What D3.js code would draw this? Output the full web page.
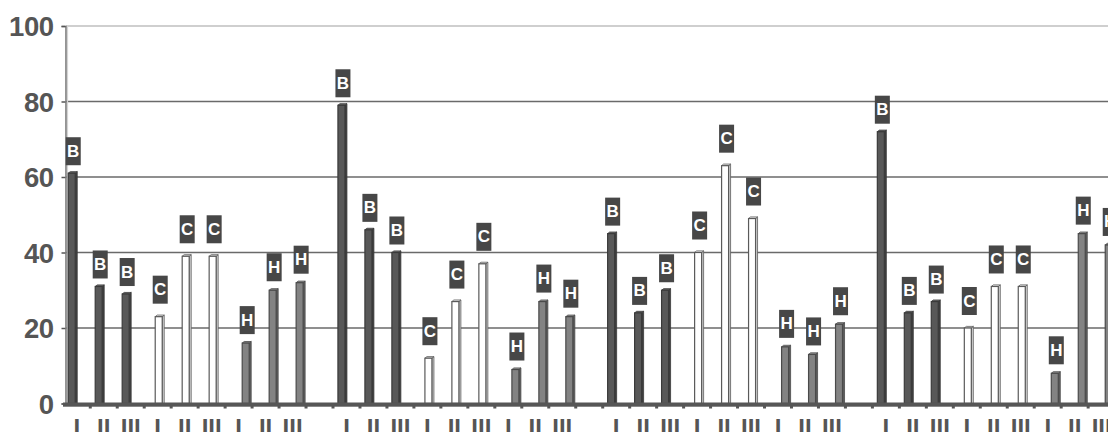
<!DOCTYPE html>
<html>
<head>
<meta charset="utf-8">
<script src="https://cdn.jsdelivr.net/npm/d3@7/dist/d3.min.js"></script>
<style>
  html, body { margin: 0; padding: 0; background: #fff; overflow: hidden; }
  svg { display: block; }
</style>
</head>
<body>
<svg id="chart" width="1108" height="432"></svg>
<script>
// ---- data ----
const categories = ["I","II","III","I","II","III","I","II","III","",
                    "I","II","III","I","II","III","I","II","III","",
                    "I","II","III","I","II","III","I","II","III","",
                    "I","II","III","I","II","III","I","II","III"];
const seriesKeys = ["B","C","H"];
const barSeries = ["B","B","B","C","C","C","H","H","H",null,
                   "B","B","B","C","C","C","H","H","H",null,
                   "B","B","B","C","C","C","H","H","H",null,
                   "B","B","B","C","C","C","H","H","H"];
const values = [61,31,29,23,39,39,16,30,32,null,
                79,46,40,12,27,37,9,27,23,null,
                45,24,30,40,63,49,15,13,21,null,
                72,24,27,20,31,31,8,45,42];
const yTicks = [0,20,40,60,80,100];

// ---- styles ----
const W = 1108, H = 432;
const fills = { B: "#585858", C: "#ffffff", H: "#838383" };
const sides = { B: "#3e3e3e", C: "#d8d8d8", H: "#5e5e5e" };
const tops  = { B: "#6e6e6e", C: "#f0f0f0", H: "#9a9a9a" };
const strokes = { B: "#3a3a3a", C: "#5a5a5a", H: "#4a4a4a" };
const labelGap = { B: 8, C: 13, H: 9 };

const svg = d3.select("#chart");

const x = d3.scaleBand()
  .domain(d3.range(categories.length))
  .range([63.3, 63.3 + 26.97 * categories.length])
  .paddingInner(0).paddingOuter(0);
const bw = x.bandwidth();
const xs = d3.scalePoint().domain(seriesKeys).range([bw * 0.35, bw * 0.8]);
const y = d3.scaleLinear().domain([0, 100]).range([403.5, 26]);

// gridlines
svg.append("g").selectAll("line")
  .data(yTicks.filter(t => t > 0))
  .join("line")
  .attr("x1", 66).attr("x2", W)
  .attr("y1", d => y(d)).attr("y2", d => y(d))
  .attr("stroke", d => d === 100 ? "#cfcfcf" : "#6a6a6a")
  .attr("stroke-width", d => d === 100 ? 2 : 1.5);

// y axis
const yAxis = svg.append("g")
  .attr("transform", "translate(65.5,0)")
  .call(d3.axisLeft(y).tickValues(yTicks).tickSize(4).tickPadding(8).tickFormat(d3.format("d")));
yAxis.select(".domain").attr("stroke", "#7a7a7a").attr("stroke-width", 1.6);
yAxis.selectAll(".tick line").attr("stroke", "#555").attr("stroke-width", 1.5);
yAxis.selectAll(".tick text")
  .attr("fill", "#555")
  .attr("dy", "0.36em")
  .style("font-family", "'Liberation Sans', Arial, sans-serif")
  .style("font-weight", "bold")
  .style("font-size", "27.5px")
  .style("letter-spacing", "-0.5px");
svg.append("line").attr("x1", 67.5).attr("x2", 67.5).attr("y1", y(100)).attr("y2", y(0))
  .attr("stroke", "#d4d4d4").attr("stroke-width", 1.2);

// bars
const barData = values.map((v, i) => ({ i, v, s: barSeries[i] })).filter(d => d.v != null);
const gBars = svg.append("g");
const fw = 7, sw = 2, dep = 1.6;
barData.forEach(d => {
  const cx = x(d.i) + xs(d.s);
  const x0 = cx - 4.5, x1 = x0 + fw, yv = y(d.v), y0 = y(0);
  const g = gBars.append("g");
  g.append("polygon")
    .attr("points", [[x1, yv], [x1 + sw, yv - dep], [x1 + sw, y0], [x1, y0]].join(" "))
    .attr("fill", sides[d.s]).attr("stroke", strokes[d.s]).attr("stroke-width", 0.8);
  g.append("polygon")
    .attr("points", [[x0, yv], [x0 + sw, yv - dep], [x1 + sw, yv - dep], [x1, yv]].join(" "))
    .attr("fill", tops[d.s]).attr("stroke", strokes[d.s]).attr("stroke-width", 0.8);
  g.append("rect")
    .attr("x", x0).attr("y", yv).attr("width", fw).attr("height", y0 - yv)
    .attr("fill", fills[d.s]).attr("stroke", strokes[d.s]).attr("stroke-width", 1.2);
});

// floor / x axis line
svg.append("rect").attr("x", 63).attr("y", 402.5).attr("width", W - 63).attr("height", 4.2)
  .attr("fill", "#565656");
svg.append("g").selectAll("rect")
  .data(d3.range(categories.length))
  .join("rect")
  .attr("x", i => x(i) + bw - 1.5).attr("y", 406).attr("width", 3).attr("height", 2.5)
  .attr("fill", "#565656");

// x axis labels
const xAxis = svg.append("g")
  .attr("transform", "translate(0,403.5)")
  .call(d3.axisBottom(x).tickSize(0).tickPadding(15).tickFormat(i => categories[i]));
xAxis.select(".domain").remove();
xAxis.selectAll(".tick text")
  .attr("fill", "#555")
  .style("font-family", "'Liberation Sans', Arial, sans-serif")
  .style("font-weight", "bold")
  .style("font-size", "24px");

// data labels
const gLab = svg.append("g");
barData.forEach(d => {
  const cx = x(d.i) + xs(d.s) + 0.5;
  const bottom = y(d.v) - labelGap[d.s];
  gLab.append("rect")
    .attr("x", cx - 7.5).attr("y", bottom - 28).attr("width", 15).attr("height", 28)
    .attr("fill", "#474747");
  gLab.append("text")
    .attr("x", cx).attr("y", bottom - 14)
    .attr("text-anchor", "middle").attr("dominant-baseline", "central")
    .attr("fill", "#fff")
    .style("font-family", "'Liberation Sans', Arial, sans-serif")
    .style("font-weight", "bold")
    .style("font-size", "17px")
    .text(d.s);
});
</script>
</body>
</html>
